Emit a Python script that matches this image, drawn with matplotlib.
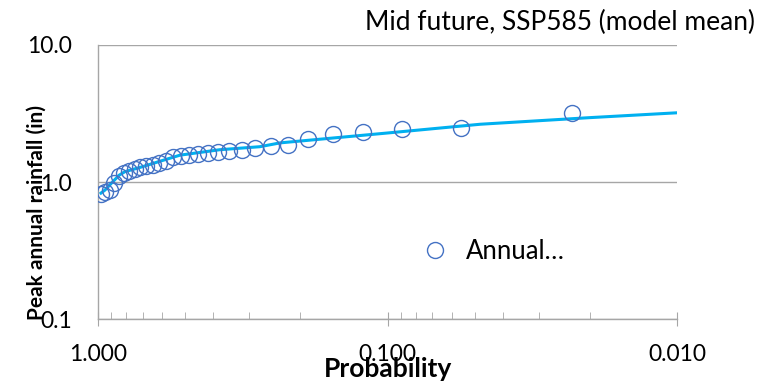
import numpy as np
import matplotlib
matplotlib.use('Agg')
import matplotlib.pyplot as plt
from matplotlib.ticker import FixedLocator, NullFormatter

plt.rcParams['font.family'] = ['Lato', 'DejaVu Sans']

# exceedance probability of each ranked value (largest first)
prob = [0.0230, 0.0559, 0.0888, 0.1217, 0.1546, 0.1875, 0.2204, 0.2533,
        0.2862, 0.3191, 0.3520, 0.3849, 0.4178, 0.4507, 0.4836, 0.5164,
        0.5493, 0.5822, 0.6151, 0.6480, 0.6809, 0.7138, 0.7467, 0.7796,
        0.8125, 0.8454, 0.8783, 0.9112, 0.9441, 0.9770]
rain = [3.19, 2.49, 2.45, 2.31, 2.23, 2.05, 1.86, 1.83,
        1.77, 1.72, 1.68, 1.65, 1.62, 1.59, 1.57, 1.55,
        1.52, 1.43, 1.38, 1.34, 1.31, 1.28, 1.25, 1.21,
        1.16, 1.10, 0.98, 0.87, 0.84, 0.82]

# fitted curve
fit_prob = [0.977, 0.946, 0.895, 0.846, 0.807, 0.705, 0.616, 0.521,
            0.380, 0.276, 0.235, 0.102, 0.0478, 0.0200, 0.0100]
fit_rain = [0.83, 0.874, 0.99, 1.12, 1.19, 1.29, 1.41, 1.57,
            1.72, 1.81, 1.93, 2.27, 2.64, 2.95, 3.20]

title = 'Mid future, SSP585 (model mean)'
x_ticks = [1.0, 0.1, 0.01]
x_labels = ['1.000', '0.100', '0.010']
y_ticks = [0.1, 1.0, 10.0]
y_labels = ['0.1', '1.0', '10.0']

fig = plt.figure(figsize=(7.75, 3.81), dpi=100)
ax = fig.add_axes([0.1265, 0.1627, 0.747, 0.7192])

ax.plot(fit_prob, fit_rain, color='#00B0F0', lw=2.2, zorder=2)
ax.plot(prob, rain, 'o', mfc='none', mec='#4472C4', mew=1.0, ms=11.5,
        label='Annual…', zorder=3)

ax.set_xscale('log')
ax.set_yscale('log')
ax.set_xlim(1.0, 0.01)
ax.set_ylim(0.1, 10.0)

ax.xaxis.set_major_locator(FixedLocator(x_ticks))
ax.set_xticklabels(x_labels)
minors = [v * d for d in (0.1, 0.01) for v in range(2, 10)]
ax.xaxis.set_minor_locator(FixedLocator(minors))
ax.xaxis.set_minor_formatter(NullFormatter())
ax.yaxis.set_major_locator(FixedLocator(y_ticks))
ax.set_yticklabels(y_labels)
ax.yaxis.set_minor_locator(FixedLocator([]))

grey = '#A6A6A6'
ax.grid(axis='y', which='major', color=grey, lw=1.0)
for s in ['top', 'right']:
    ax.spines[s].set_visible(False)
for s in ['left', 'bottom']:
    ax.spines[s].set_color(grey)
    ax.spines[s].set_linewidth(1.0)
ax.tick_params(axis='x', which='major', direction='inout', length=10,
               color=grey, labelsize=16.5, pad=13)
ax.tick_params(axis='x', which='minor', direction='in', length=5, color=grey)
ax.tick_params(axis='y', which='major', length=0, labelsize=16.5, pad=18.5)

ax.set_xlabel('Probability', fontsize=19, fontweight='bold')
ax.xaxis.set_label_coords(0.5, -0.137)
ax.set_ylabel('Peak annual rainfall (in)', fontsize=15, fontweight='bold')
ax.yaxis.set_label_coords(-0.088, 0.389)
fig.text(0.974, 0.941, title, ha='right', va='center', fontsize=19)

ax.legend(loc='center left', bbox_to_anchor=(0.5597, 0.248), frameon=False,
          fontsize=18.5, handlelength=1.0, handletextpad=0.7,
          borderpad=0, borderaxespad=0)

fig.savefig('out.png', dpi=100)
